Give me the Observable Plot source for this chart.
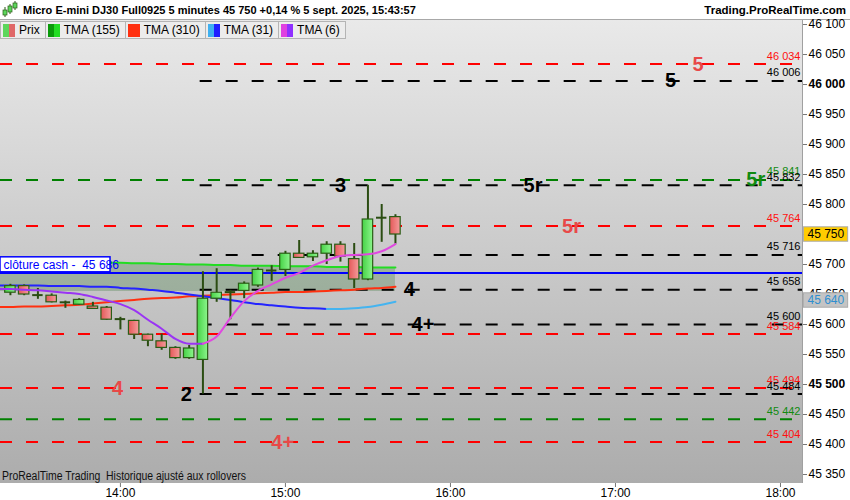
<!DOCTYPE html>
<html>
<head>
<meta charset="utf-8">
<script src="https://cdn.jsdelivr.net/npm/d3@7"></script>
<script src="https://cdn.jsdelivr.net/npm/@observablehq/plot@0.6"></script>
<style>
  body { margin: 0; background: white; font-family: "Liberation Sans", Arial, sans-serif; }
  #wrap { position: relative; width: 850px; height: 500px; overflow: hidden; }
  #title { height: 20px; box-sizing: border-box; border-bottom: 1px solid #a8a8a8; display: flex; align-items: center; font-size: 11px; font-weight: bold; }
  #title .r { position: absolute; right: 4px; top: 4px; font-size: 11.5px; }
  #legend { position: absolute; top: 21px; left: 0; display: flex; font-size: 12px; }
  #legend div { display: flex; align-items: center; height: 16px; border: 1px solid #b4b4b4; background: #ececec; padding: 0 5px 0 2px; margin-right: -1px; }
  #legend i { display: inline-block; width: 6px; height: 13px; }
  #legend span { margin-left: 4px; }
  #foot { position: absolute; top: 469px; left: 2px; font-size: 12px; color: #111; transform: scaleX(0.87); transform-origin: left; white-space: nowrap; }
</style>
</head>
<body>
<div id="wrap">
  <div id="title">
    <svg width="20" height="20" style="margin:0 2px 0 1px">
      <line x1="4" y1="7" x2="4" y2="17" stroke="#2a5a14"/><rect x="2" y="10" width="4" height="5" fill="#5cd65c" stroke="#2a5a14" stroke-width=".7"/>
      <line x1="9" y1="4" x2="9" y2="14" stroke="#2a5a14"/><rect x="7" y="6" width="4" height="6" fill="#5cd65c" stroke="#2a5a14" stroke-width=".7"/>
      <line x1="14" y1="1" x2="14" y2="10" stroke="#2a5a14"/><rect x="12" y="3" width="4" height="5" fill="#5cd65c" stroke="#2a5a14" stroke-width=".7"/>
    </svg>
    <span>Micro E-mini DJ30 Full0925 5 minutes 45 750 +0,14 % 5 sept. 2025, 15:43:57</span>
    <span class="r">Trading.ProRealTime.com</span>
  </div>
  <div id="chart"></div>
  <div id="legend">
    <div><i style="background:#5cd65c"></i><i style="background:#e06868"></i><span>Prix</span></div>
    <div><i style="background:#0a9a0a"></i><i style="background:#22dd22"></i><span>TMA (155)</span></div>
    <div><i style="background:#ff3010"></i><i style="background:#ff3010"></i><span>TMA (310)</span></div>
    <div><i style="background:#40b0f0"></i><i style="background:#2020ff"></i><span>TMA (31)</span></div>
    <div><i style="background:#e040e0"></i><i style="background:#9030ff"></i><span>TMA (6)</span></div>
  </div>
  <div id="foot">ProRealTime Trading&nbsp; Historique ajusté aux rollovers</div>
</div>
<script>
// bougies 5 minutes
const candleTimes = ["13:20","13:25","13:30","13:35","13:40","13:45","13:50","13:55","14:00","14:05","14:10","14:15","14:20","14:25","14:30","14:35","14:40","14:45","14:50","14:55","15:00","15:05","15:10","15:15","15:20","15:25","15:30","15:35","15:40"];
const opens  = [45653,45664,45650,45648,45637,45633,45630,45628,45610,45606,45583,45572,45561,45544,45541,45643,45655,45656,45665,45690,45691,45718,45712,45718,45733,45709,45675,45779,45779];
const highs  = [45667,45666,45660,45651,45639,45643,45637,45630,45612,45607,45584,45584,45563,45565,45688,45693,45657,45671,45694,45698,45722,45740,45723,45738,45738,45735,45832,45800,45783];
const lows   = [45648,45648,45642,45636,45627,45632,45625,45607,45591,45575,45563,45557,45542,45542,45484,45637,45608,45643,45662,45672,45680,45710,45705,45700,45704,45660,45673,45737,45734];
const closes = [45664,45650,45649,45637,45637,45641,45626,45608,45609,45583,45573,45561,45544,45560,45643,45653,45654,45668,45691,45690,45718,45711,45718,45733,45713,45675,45775,45778,45750];

// moyennes mobiles
const maTimes = ["13:15","13:20","13:25","13:30","13:35","13:40","13:45","13:50","13:55","14:00","14:05","14:10","14:15","14:20","14:25","14:30","14:35","14:40","14:45","14:50","14:55","15:00","15:05","15:10","15:15","15:20","15:25","15:30","15:35","15:40"];
const tma155 = [45704,45704,45704,45703,45703,45703,45703,45703,45703,45703,45702,45702,45701,45701,45700,45700,45699,45699,45698,45698,45698,45697,45697,45697,45696,45696,45696,45695,45695,45695];
const tma310 = [45629,45629,45630,45630,45631,45632,45633,45635,45637,45639,45641,45643,45644,45645,45647,45648,45649,45650,45651,45652,45653,45654,45654,45655,45656,45657,45658,45660,45661,45663];
const tma31  = [45665,45665,45665,45665,45664,45664,45664,45663,45663,45661,45660,45658,45656,45653,45650,45647,45644,45641,45637,45634,45632,45630,45628,45627,45626,45626,45627,45629,45633,45638];
const tma6   = [45659,45659,45658,45657,45655,45653,45651,45646,45640,45634,45624,45608,45593,45576,45568,45568,45580,45611,45639,45656,45667,45678,45686,45698,45707,45714,45716,45717,45722,45734];

// niveaux
const redLevels = [46034,45764,45584,45494,45404];
const greenLevels = [45841,45442];
const blackLevels = [46006,45832,45716,45658,45600,45484];
const blackStart = "14:29";
const cashClose = 45686;
const lastPrice = 45750;
const tma31Last = 45640;

const bigText  = ["5","5","3","5r","5r","5r","4","4+","4","2","4+"];
const bigTime  = ["17:30","17:20","15:20","16:30","17:51","16:44","15:45","15:50","13:59","14:24","14:59"];
const bigPrice = [46034,46006,45832,45832,45841,45764,45658,45600,45494,45484,45404];
const bigColor = ["#e84848","#000","#000","#000","#108a10","#e84848","#000","#000","#e84848","#000","#e84848"];

const yTicks = [45350,45400,45450,45550,45600,45650,45700,45750,45800,45850,45900,45950,46050,46100];
const yTicksBold = [45500,46000];
const xTicks = ["14:00","15:00","16:00","17:00","18:00"];

const parseT = s => { const [h, m] = s.split(":"); return +h * 60 + +m; };
const fmtNum = d => d3.format(",")(d).replace(/,/g, " ");
const fmtTime = m => `${Math.floor(m / 60)}:${String(m % 60).padStart(2, "0")}`;

const candles = candleTimes.map((s, i) => ({t: parseT(s), o: opens[i], h: highs[i], l: lows[i], c: closes[i]}));
const ma = maTimes.map((s, i) => ({t: parseT(s), g: tma155[i], r: tma310[i], b: tma31[i], p: tma6[i]}));
const big = bigText.map((s, i) => ({s, t: parseT(bigTime[i]), y: bigPrice[i], c: bigColor[i]}));

const xStart = 796.4, xEnd = 1088;
const half = 1.9; // demi-largeur des bougies en minutes
const isDoji = d => Math.abs(d.c - d.o) < 2;

const background = (index, scales, values, dims) => {
  const g = d3.create("svg:g");
  const defs = g.append("defs");
  const grad = (id, x2, y2, a, b) => {
    const lg = defs.append("linearGradient").attr("id", id).attr("x1", 0).attr("y1", 0).attr("x2", x2).attr("y2", y2);
    lg.append("stop").attr("offset", "0%").attr("stop-color", a);
    lg.append("stop").attr("offset", "100%").attr("stop-color", b);
  };
  grad("bg", 0, 1, "#e9e9e9", "#acacac");
  grad("gUp", 1, 0, "#46d246", "#8cf58c");
  grad("gDn", 1, 0, "#e45858", "#f59c9c");
  g.append("rect")
    .attr("x", dims.marginLeft).attr("y", dims.marginTop)
    .attr("width", dims.width - dims.marginLeft - dims.marginRight)
    .attr("height", dims.height - dims.marginTop - dims.marginBottom)
    .attr("fill", "url(#bg)");
  return g.node();
};

const chart = Plot.plot({
  width: 850,
  height: 480,
  marginTop: 0,
  marginBottom: 17,
  marginLeft: 0,
  marginRight: 48,
  x: {domain: [xStart, xEnd], axis: null},
  y: {domain: [45335, 46106.7], axis: null},
  style: {fontFamily: "'Liberation Sans', Arial, sans-serif", fontSize: "12px", background: "white", overflow: "visible"},
  marks: [
    background,
    // zone
    Plot.areaY(ma, {x: "t", y1: 45655, y2: "g", fill: "#3f7a3f", fillOpacity: 0.3, curve: "monotone-x", clip: true}),
    // niveaux
    Plot.ruleY(redLevels, {stroke: "#ff0000", strokeWidth: 2, strokeDasharray: "12,14"}),
    Plot.ruleY(greenLevels, {stroke: "#008000", strokeWidth: 2, strokeDasharray: "12,14"}),
    Plot.ruleY(blackLevels, {x1: parseT(blackStart), x2: xEnd, stroke: "#000", strokeWidth: 2, strokeDasharray: "12,14"}),
    Plot.text(redLevels, {y: d => d, text: fmtNum, frameAnchor: "right", textAnchor: "end", dx: -2, dy: -8, fill: "#ff1010", fontSize: 11}),
    Plot.text(greenLevels, {y: d => d, text: fmtNum, frameAnchor: "right", textAnchor: "end", dx: -2, dy: -8, fill: "#108a10", fontSize: 11}),
    Plot.text(blackLevels, {y: d => d, text: fmtNum, frameAnchor: "right", textAnchor: "end", dx: -2, dy: -8, fill: "#000", fontSize: 11}),
    // clôture cash
    Plot.ruleY([cashClose], {stroke: "#0000ff", strokeWidth: 2}),
    // moyennes
    Plot.line(ma, {x: "t", y: "r", stroke: "#ff3010", strokeWidth: 2, curve: "monotone-x", clip: true}),
    Plot.line(ma, {x: "t", y: "g", stroke: "#22dd22", strokeWidth: 2, curve: "monotone-x", clip: true}),
    Plot.line(ma.slice(0, 25), {x: "t", y: "b", stroke: "#2424ff", strokeWidth: 2, curve: "monotone-x", clip: true}),
    Plot.line(ma.slice(24), {x: "t", y: "b", stroke: "#44b4f0", strokeWidth: 2, curve: "monotone-x", clip: true}),
    // bougies
    Plot.ruleX(candles, {x: "t", y1: "l", y2: "h", stroke: "#2b4d12", strokeWidth: 2}),
    Plot.rect(candles.filter(d => !isDoji(d)), {
      x1: d => d.t - half, x2: d => d.t + half,
      y1: "o", y2: "c",
      fill: d => d.c >= d.o ? "url(#gUp)" : "url(#gDn)",
      stroke: "#2b5d16", strokeWidth: 1.2
    }),
    Plot.ruleY(candles.filter(isDoji), {x1: d => d.t - half, x2: d => d.t + half, y: "c", stroke: "#2b4d12", strokeWidth: 2}),
    Plot.line(ma.slice(0, 16), {x: "t", y: "p", stroke: "#9a34f4", strokeWidth: 2, curve: "monotone-x", clip: true}),
    Plot.line(ma.slice(15), {x: "t", y: "p", stroke: "#e048e0", strokeWidth: 2, curve: "monotone-x", clip: true}),
    // étiquettes
    Plot.text(big, {x: "t", y: "y", text: "s", fill: "c", fontSize: 20, fontWeight: "bold"}),
    Plot.rect([cashClose], {x1: xStart, x2: parseT("13:56") + 0.4, y1: d => d + 1, y2: d => d + 26, fill: "white", stroke: "#0000ff", strokeWidth: 1.5}),
    Plot.text([cashClose], {y: d => d + 13, frameAnchor: "left", dx: 3, text: d => `clôture cash -  ${fmtNum(d)}`, textAnchor: "start", fill: "#0000ff", fontSize: 12}),
    // bord de la zone de tracé
    Plot.ruleX([xEnd], {stroke: "#a0a0a0", strokeWidth: 1}),
    // axes
    Plot.axisY(yTicks, {anchor: "right", label: null, tickSize: 4, tickPadding: 2, tickFormat: fmtNum, fontSize: 12, stroke: "#777"}),
    Plot.axisY(yTicksBold, {anchor: "right", label: null, tickSize: 4, tickPadding: 2, tickFormat: fmtNum, fontSize: 12, fontWeight: "bold", stroke: "#777"}),
    Plot.axisX(xTicks.map(parseT), {anchor: "bottom", label: null, tickSize: 4, tickPadding: 1, tickFormat: fmtTime, fontSize: 12, stroke: "#777"}),
    // étiquettes de prix sur l'axe
    Plot.rect([lastPrice], {x1: xEnd + 0.5, x2: xEnd + 16.6, y1: d => d - 12, y2: d => d + 12, fill: "#ffcc00", stroke: "#aaa", clip: false}),
    Plot.text([lastPrice], {y: d => d, frameAnchor: "right", dx: 5, textAnchor: "start", text: fmtNum, fill: "#000", fontSize: 12}),
    Plot.rect([tma31Last], {x1: xEnd + 0.5, x2: xEnd + 16.6, y1: d => d - 12, y2: d => d + 12, fill: "#c4c4c4", stroke: "#aaa", clip: false}),
    Plot.text([tma31Last], {y: d => d, frameAnchor: "right", dx: 5, textAnchor: "start", text: fmtNum, fill: "#2f8fd0", fontSize: 12})
  ]
});
document.getElementById("chart").append(chart);
</script>
</body>
</html>
